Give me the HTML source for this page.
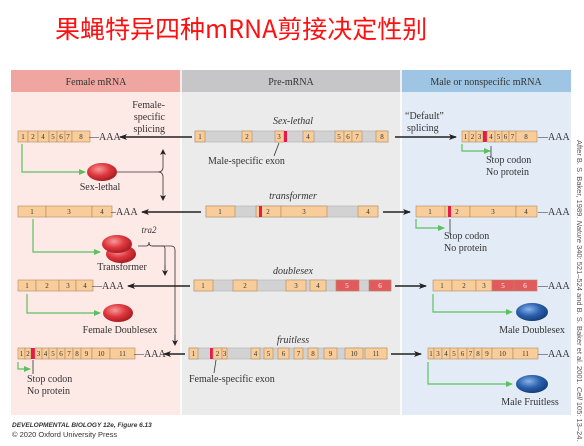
<!DOCTYPE html>
<html><head><meta charset="utf-8"><style>
body{margin:0;background:#fff;width:584px;height:446px;overflow:hidden}
svg{display:block}
.e{fill:#f8cd99;stroke:#b28a62;stroke-width:0.6}
.g{fill:#d2d2d2;stroke:#b0b0b0;stroke-width:0.6}
.r{fill:#e05a5e;stroke:#b28a62;stroke-width:0.6}
.b{fill:#e8184a}
.n{font:7px "Liberation Serif",serif;fill:#333;text-anchor:middle}
.nw{font:7px "Liberation Serif",serif;fill:#fff;text-anchor:middle}
.t{font:10px "Liberation Serif",serif;fill:#333}
.i{font:italic 10px "Liberation Serif",serif;fill:#333;text-anchor:middle}
.h{font:10px "Liberation Serif",serif;fill:#333;text-anchor:middle}
.k{stroke:#222;stroke-width:1.4;fill:none}
.gr{stroke:#5cc060;stroke-width:1.2;fill:none}
.l{stroke:#333;stroke-width:0.8;fill:none}
</style></head><body>
<svg width="584" height="446" viewBox="0 0 584 446" xmlns="http://www.w3.org/2000/svg">
<defs>
<radialGradient id="rd" cx="40%" cy="35%" r="70%"><stop offset="0" stop-color="#f59a9a"/><stop offset="0.5" stop-color="#e0383e"/><stop offset="1" stop-color="#a01820"/></radialGradient>
<radialGradient id="bl" cx="40%" cy="35%" r="70%"><stop offset="0" stop-color="#8ab4e8"/><stop offset="0.5" stop-color="#2c62b0"/><stop offset="1" stop-color="#123870"/></radialGradient>
<marker id="ak" markerWidth="8" markerHeight="6" refX="7" refY="3" orient="auto" markerUnits="userSpaceOnUse"><path d="M0,0 L8,3 L0,6 L2,3z" fill="#222"/></marker>
<marker id="ag" markerWidth="7" markerHeight="6" refX="6" refY="3" orient="auto" markerUnits="userSpaceOnUse"><path d="M0,0 L7,3 L0,6z" fill="#5cc060"/></marker>
<marker id="as" markerWidth="6" markerHeight="6" refX="5" refY="3" orient="auto" markerUnits="userSpaceOnUse"><path d="M0,0 L6,3 L0,6 L1.5,3z" fill="#222"/></marker>
</defs>
<text x="55" y="38" style="font:25px 'WenQuanYi Zen Hei','Noto Sans CJK SC',sans-serif;fill:#ff1010">果蝇特异四种mRNA剪接决定性别</text>
<rect x="11" y="70" width="170" height="22" fill="#f0a6a0"/>
<rect x="181" y="70" width="220" height="22" fill="#c6c6c8"/>
<rect x="401" y="70" width="170" height="22" fill="#9ec6e4"/>
<rect x="11" y="92" width="170" height="323" fill="#fde9e6"/>
<rect x="181" y="92" width="220" height="323" fill="#ebebec"/>
<rect x="401" y="92" width="170" height="323" fill="#e3ecf6"/>
<line x1="181" y1="70" x2="181" y2="415" stroke="#fff" stroke-width="1.5"/>
<line x1="401" y1="70" x2="401" y2="415" stroke="#fff" stroke-width="1.5"/>
<text x="96" y="85" class="h">Female mRNA</text>
<text x="291" y="85" class="h">Pre-mRNA</text>
<text x="486" y="85" class="h">Male or nonspecific mRNA</text>

<g>
<rect class="e" x="18" y="131" width="10" height="11"/><rect class="e" x="28" y="131" width="10" height="11"/><rect class="e" x="38" y="131" width="11" height="11"/><rect class="e" x="49" y="131" width="8" height="11"/><rect class="e" x="57" y="131" width="8" height="11"/><rect class="e" x="65" y="131" width="7" height="11"/><rect class="e" x="72" y="131" width="18" height="11"/>
<text class="n" x="23" y="139">1</text><text class="n" x="33" y="139">2</text><text class="n" x="43" y="139">4</text><text class="n" x="53" y="139">5</text><text class="n" x="61" y="139">6</text><text class="n" x="68" y="139">7</text><text class="n" x="81" y="139">8</text>
<text class="t" x="89" y="140">—AAA</text>
<line class="k" x1="192" y1="137" x2="120" y2="137" marker-end="url(#ak)"/>
<rect class="g" x="195" y="131" width="193" height="11"/>
<rect class="e" x="195" y="131" width="10" height="11"/><rect class="e" x="242" y="131" width="10" height="11"/><rect class="e" x="275" y="131" width="9" height="11"/><rect class="b" x="284" y="131" width="3" height="11"/><rect class="e" x="303" y="131" width="11" height="11"/><rect class="e" x="335" y="131" width="9" height="11"/><rect class="e" x="344" y="131" width="8" height="11"/><rect class="e" x="352" y="131" width="10" height="11"/><rect class="e" x="376" y="131" width="12" height="11"/>
<text class="n" x="200" y="139">1</text><text class="n" x="247" y="139">2</text><text class="n" x="279" y="139">3</text><text class="n" x="308" y="139">4</text><text class="n" x="339" y="139">5</text><text class="n" x="348" y="139">6</text><text class="n" x="357" y="139">7</text><text class="n" x="382" y="139">8</text>
<text x="293" y="124" class="i">Sex-lethal</text>
<line class="l" x1="279" y1="143" x2="274" y2="156"/>
<text class="t" x="208" y="164">Male-specific exon</text>
<text class="t" x="165" y="108" text-anchor="end">Female-</text><text class="t" x="165" y="120" text-anchor="end">specific</text><text class="t" x="165" y="132" text-anchor="end">splicing</text>
<line class="k" x1="395" y1="137" x2="456" y2="137" marker-end="url(#ak)"/>
<text class="t" x="405" y="119">“Default”</text><text class="t" x="407" y="131">splicing</text>
<rect class="e" x="462" y="131" width="7" height="11"/><rect class="e" x="469" y="131" width="7" height="11"/><rect class="e" x="476" y="131" width="7" height="11"/><rect class="b" x="483" y="131" width="4" height="11"/><rect class="e" x="487" y="131" width="8" height="11"/><rect class="e" x="495" y="131" width="7" height="11"/><rect class="e" x="502" y="131" width="7" height="11"/><rect class="e" x="509" y="131" width="7" height="11"/><rect class="e" x="516" y="131" width="21" height="11"/>
<text class="n" x="465.5" y="139">1</text><text class="n" x="472.5" y="139">2</text><text class="n" x="479.5" y="139">3</text><text class="n" x="491" y="139">4</text><text class="n" x="498.5" y="139">5</text><text class="n" x="505.5" y="139">6</text><text class="n" x="512.5" y="139">7</text><text class="n" x="526" y="139">8</text>
<text class="t" x="538" y="140">—AAA</text>
<polyline class="gr" points="462,144 462,151 490,151" marker-end="url(#ag)"/>
<line class="l" x1="491" y1="146" x2="491" y2="158"/>
<text class="t" x="486" y="163">Stop codon</text><text class="t" x="486" y="175">No protein</text>
</g>
<polyline class="gr" points="22,144 22,172 85,172" marker-end="url(#ag)"/>
<ellipse cx="102" cy="172" rx="15" ry="9" fill="url(#rd)"/>
<text class="t" x="100" y="190" text-anchor="middle">Sex-lethal</text>
<path class="l" d="M117,172 H158 Q163,172 163,167 M158,172 Q163,172 163,177"/>
<line class="l" x1="163" y1="167" x2="163" y2="150" marker-end="url(#as)"/>
<line class="l" x1="163" y1="177" x2="163" y2="200" marker-end="url(#as)"/>

<rect class="e" x="18" y="206" width="28" height="11"/><rect class="e" x="46" y="206" width="46" height="11"/><rect class="e" x="92" y="206" width="20" height="11"/>
<text class="n" x="32" y="214">1</text><text class="n" x="69" y="214">3</text><text class="n" x="102" y="214">4</text>
<text class="t" x="111" y="215">–AAA</text>
<line class="k" x1="201" y1="212" x2="142" y2="212" marker-end="url(#ak)"/>
<rect class="g" x="206" y="206" width="172" height="11"/>
<rect class="e" x="206" y="206" width="29" height="11"/><rect class="e" x="256" y="206" width="25" height="11"/><rect class="b" x="259" y="206" width="3" height="11"/><rect class="e" x="281" y="206" width="46" height="11"/><rect class="e" x="358" y="206" width="20" height="11"/>
<text class="n" x="220" y="214">1</text><text class="n" x="268" y="214">2</text><text class="n" x="304" y="214">3</text><text class="n" x="368" y="214">4</text>
<text x="293" y="199" class="i">transformer</text>
<line class="k" x1="383" y1="212" x2="410" y2="212" marker-end="url(#ak)"/>
<rect class="e" x="416" y="206" width="29" height="11"/><rect class="e" x="445" y="206" width="25" height="11"/><rect class="b" x="448" y="206" width="3" height="11"/><rect class="e" x="470" y="206" width="46" height="11"/><rect class="e" x="516" y="206" width="21" height="11"/>
<text class="n" x="430" y="214">1</text><text class="n" x="457" y="214">2</text><text class="n" x="493" y="214">3</text><text class="n" x="526" y="214">4</text>
<text class="t" x="538" y="215">—AAA</text>
<polyline class="gr" points="416,219 416,228 444,228" marker-end="url(#ag)"/>
<line class="l" x1="450" y1="219" x2="450" y2="234"/>
<text class="t" x="444" y="239">Stop codon</text><text class="t" x="444" y="251">No protein</text>
<polyline class="gr" points="33,219 33,252 100,252" marker-end="url(#ag)"/>
<ellipse cx="121" cy="254" rx="15" ry="9" fill="url(#rd)"/>
<ellipse cx="117" cy="244" rx="15" ry="9" fill="url(#rd)"/>
<text class="t" x="122" y="270" text-anchor="middle">Transformer</text>
<text x="149" y="233" class="i" style="font-size:9px">tra2</text>
<path class="l" d="M138,246 H146 Q149,246 149,242 Q149,246 152,246 H163 Q165,246 165,249 V270"/>
<path class="l" d="M152,246 H171 Q175,246 175,250 V343"/>
<line class="l" x1="165" y1="265" x2="165" y2="275" marker-end="url(#as)"/>
<line class="l" x1="175" y1="335" x2="175" y2="345" marker-end="url(#as)"/>

<rect class="e" x="18" y="280" width="18" height="11"/><rect class="e" x="36" y="280" width="23" height="11"/><rect class="e" x="59" y="280" width="17" height="11"/><rect class="e" x="76" y="280" width="17" height="11"/>
<text class="n" x="27" y="288">1</text><text class="n" x="47" y="288">2</text><text class="n" x="68" y="288">3</text><text class="n" x="85" y="288">4</text>
<text class="t" x="92" y="289">—AAA</text>
<line class="k" x1="190" y1="286" x2="128" y2="286" marker-end="url(#ak)"/>
<rect class="g" x="194" y="280" width="197" height="11"/>
<rect class="e" x="194" y="280" width="19" height="11"/><rect class="e" x="233" y="280" width="24" height="11"/><rect class="e" x="286" y="280" width="20" height="11"/><rect class="e" x="310" y="280" width="16" height="11"/><rect class="r" x="336" y="280" width="23" height="11"/><rect class="r" x="369" y="280" width="22" height="11"/>
<text class="n" x="203" y="288">1</text><text class="n" x="245" y="288">2</text><text class="n" x="296" y="288">3</text><text class="n" x="318" y="288">4</text><text class="nw" x="347" y="288">5</text><text class="nw" x="380" y="288">6</text>
<text x="293" y="274" class="i">doublesex</text>
<line class="k" x1="395" y1="286" x2="426" y2="286" marker-end="url(#ak)"/>
<rect class="e" x="433" y="280" width="19" height="11"/><rect class="e" x="452" y="280" width="24" height="11"/><rect class="e" x="476" y="280" width="16" height="11"/><rect class="r" x="492" y="280" width="22" height="11"/><rect class="r" x="514" y="280" width="23" height="11"/>
<text class="n" x="442" y="288">1</text><text class="n" x="464" y="288">2</text><text class="n" x="484" y="288">3</text><text class="nw" x="503" y="288">5</text><text class="nw" x="525" y="288">6</text>
<text class="t" x="538" y="289">—AAA</text>
<polyline class="gr" points="27,294 27,313 100,313" marker-end="url(#ag)"/>
<ellipse cx="118" cy="313" rx="15" ry="9" fill="url(#rd)"/>
<text class="t" x="120" y="333" text-anchor="middle">Female Doublesex</text>
<polyline class="gr" points="433,294 433,312 512,312" marker-end="url(#ag)"/>
<ellipse cx="532" cy="312" rx="16" ry="9" fill="url(#bl)"/>
<text class="t" x="532" y="333" text-anchor="middle">Male Doublesex</text>

<g>
<rect class="e" x="18" y="348" width="7" height="11"/><rect class="e" x="25" y="348" width="6" height="11"/><rect class="b" x="31" y="348" width="4" height="11"/><rect class="e" x="35" y="348" width="7" height="11"/><rect class="e" x="42" y="348" width="7" height="11"/><rect class="e" x="49" y="348" width="8" height="11"/><rect class="e" x="57" y="348" width="8" height="11"/><rect class="e" x="65" y="348" width="8" height="11"/><rect class="e" x="73" y="348" width="8" height="11"/><rect class="e" x="81" y="348" width="11" height="11"/><rect class="e" x="92" y="348" width="18" height="11"/><rect class="e" x="110" y="348" width="25" height="11"/>
<text class="n" x="21.5" y="356">1</text><text class="n" x="28" y="356">2</text><text class="n" x="38.5" y="356">3</text><text class="n" x="45.5" y="356">4</text><text class="n" x="53" y="356">5</text><text class="n" x="61" y="356">6</text><text class="n" x="69" y="356">7</text><text class="n" x="77" y="356">8</text><text class="n" x="86.5" y="356">9</text><text class="n" x="101" y="356">10</text><text class="n" x="122.5" y="356">11</text>
<text class="t" x="134" y="357">—AAA</text>
<line class="k" x1="185" y1="354" x2="164" y2="354" marker-end="url(#ak)"/>
<polyline class="gr" points="18,362 18,369 30,369" marker-end="url(#ag)"/>
<line class="l" x1="33" y1="360" x2="33" y2="374"/>
<text class="t" x="27" y="382">Stop codon</text><text class="t" x="27" y="394">No protein</text>
<rect class="g" x="189" y="348" width="198" height="11"/>
<rect class="e" x="189" y="348" width="9" height="11"/><rect class="b" x="210" y="348" width="3" height="11"/><rect class="e" x="213" y="348" width="9" height="11"/><rect class="e" x="222" y="348" width="5" height="11"/><rect class="e" x="251" y="348" width="9" height="11"/><rect class="e" x="264" y="348" width="9" height="11"/><rect class="e" x="278" y="348" width="11" height="11"/><rect class="e" x="294" y="348" width="9" height="11"/><rect class="e" x="308" y="348" width="10" height="11"/><rect class="e" x="324" y="348" width="13" height="11"/><rect class="e" x="345" y="348" width="18" height="11"/><rect class="e" x="365" y="348" width="22" height="11"/>
<text class="n" x="193.5" y="356">1</text><text class="n" x="217.5" y="356">2</text><text class="n" x="224.5" y="356">3</text><text class="n" x="255.5" y="356">4</text><text class="n" x="268.5" y="356">5</text><text class="n" x="283.5" y="356">6</text><text class="n" x="298.5" y="356">7</text><text class="n" x="313" y="356">8</text><text class="n" x="330.5" y="356">9</text><text class="n" x="354" y="356">10</text><text class="n" x="376" y="356">11</text>
<text x="293" y="343" class="i">fruitless</text>
<line class="l" x1="216" y1="360" x2="214" y2="373"/>
<text class="t" x="189" y="382">Female-specific exon</text>
<line class="k" x1="391" y1="354" x2="421" y2="354" marker-end="url(#ak)"/>
<rect class="e" x="428" y="348" width="6" height="11"/><rect class="e" x="434" y="348" width="8" height="11"/><rect class="e" x="442" y="348" width="8" height="11"/><rect class="e" x="450" y="348" width="8" height="11"/><rect class="e" x="458" y="348" width="9" height="11"/><rect class="e" x="467" y="348" width="7" height="11"/><rect class="e" x="474" y="348" width="8" height="11"/><rect class="e" x="482" y="348" width="10" height="11"/><rect class="e" x="492" y="348" width="21" height="11"/><rect class="e" x="513" y="348" width="25" height="11"/>
<text class="n" x="431" y="356">1</text><text class="n" x="438" y="356">3</text><text class="n" x="446" y="356">4</text><text class="n" x="454" y="356">5</text><text class="n" x="462.5" y="356">6</text><text class="n" x="470.5" y="356">7</text><text class="n" x="478" y="356">8</text><text class="n" x="487" y="356">9</text><text class="n" x="502.5" y="356">10</text><text class="n" x="525.5" y="356">11</text>
<text class="t" x="538" y="357">—AAA</text>
<polyline class="gr" points="428,362 428,384 512,384" marker-end="url(#ag)"/>
<ellipse cx="532" cy="384" rx="16" ry="9" fill="url(#bl)"/>
<text class="t" x="530" y="405" text-anchor="middle">Male Fruitless</text>
</g>

<text x="577" y="140" transform="rotate(90 577 140)" style="font:7.5px 'Liberation Sans',sans-serif;fill:#555">After B. S. Baker, 1989. <tspan font-style="italic">Nature</tspan> 340: 521–524 and B. S. Baker et al. 2001. <tspan font-style="italic">Cell</tspan> 105: 13–24.</text>
<text x="12" y="427" style="font:italic bold 6.5px 'Liberation Sans',sans-serif;fill:#333">DEVELOPMENTAL BIOLOGY 12e, Figure 6.13</text>
<text x="12" y="437" style="font:7.5px 'Liberation Sans',sans-serif;fill:#333">© 2020 Oxford University Press</text>
</svg>
</body></html>
